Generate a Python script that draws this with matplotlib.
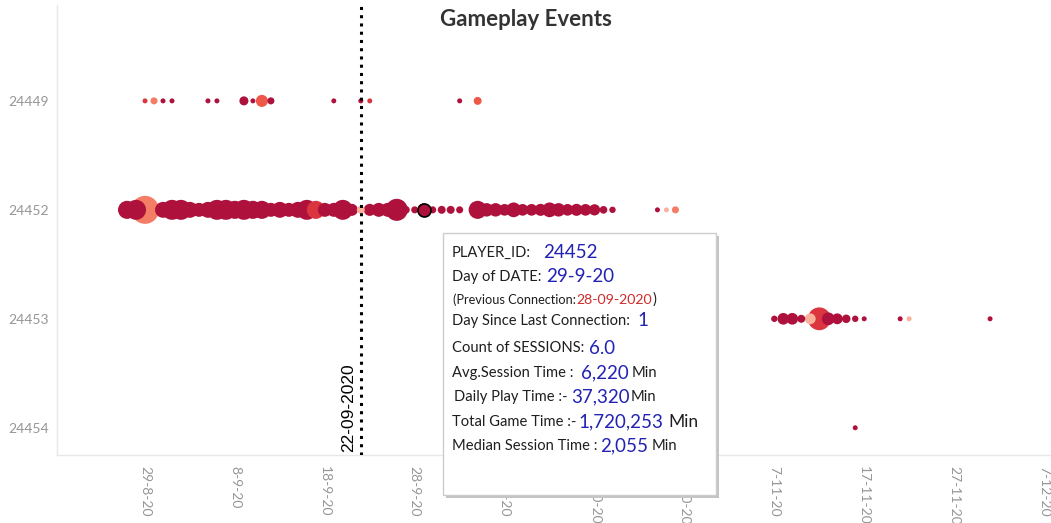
import datetime as dt
import numpy as np
import matplotlib
matplotlib.use("Agg")
import matplotlib.pyplot as plt
import matplotlib.dates as mdates
import matplotlib.transforms as mtransforms
from matplotlib.colors import ListedColormap
from matplotlib.patches import Rectangle

plt.rcParams["font.family"] = ["Lato", "DejaVu Sans"]

# players shown on the y axis (top to bottom)
players = ["24449", "24452", "24453", "24454"]

# daily events per player: date, daily play time (thousand min), colour level
p24449_dates = ["2020-08-29", "2020-08-30", "2020-08-31", "2020-09-01", "2020-09-05",
                "2020-09-06", "2020-09-09", "2020-09-10", "2020-09-11", "2020-09-12",
                "2020-09-19", "2020-09-22", "2020-09-23", "2020-10-03", "2020-10-05"]
p24449_play = [5.5, 11, 5.5, 5.5, 5.5, 5.5, 18, 5.5, 32, 11, 5.5, 5.5, 5.5, 5.5, 14]
p24449_level = [3, 1, 4, 4, 4, 4, 4, 4, 2, 4, 4, 4, 3, 4, 2]

p24452_dates = ["2020-08-27", "2020-08-28", "2020-08-29", "2020-08-31", "2020-09-01",
                "2020-09-02", "2020-09-03", "2020-09-04", "2020-09-05", "2020-09-06",
                "2020-09-07", "2020-09-08", "2020-09-09", "2020-09-10", "2020-09-11",
                "2020-09-12", "2020-09-13", "2020-09-14", "2020-09-15", "2020-09-16",
                "2020-09-17", "2020-09-18", "2020-09-19", "2020-09-20", "2020-09-21",
                "2020-09-22", "2020-09-23", "2020-09-24", "2020-09-25", "2020-09-26",
                "2020-09-27", "2020-09-28", "2020-09-29", "2020-09-30", "2020-10-01",
                "2020-10-02", "2020-10-03", "2020-10-05", "2020-10-06", "2020-10-07",
                "2020-10-08", "2020-10-09", "2020-10-10", "2020-10-11", "2020-10-12",
                "2020-10-13", "2020-10-14", "2020-10-15", "2020-10-16", "2020-10-17",
                "2020-10-18", "2020-10-19", "2020-10-20", "2020-10-25", "2020-10-26",
                "2020-10-27"]
p24452_play = [72, 88, 173, 56, 88, 88, 56, 43, 56, 88,
               88, 72, 88, 72, 72, 43, 56, 43, 56, 88,
               72, 43, 43, 88, 32, 14, 32, 43, 43, 107,
               14, 11, 37.32, 11, 14, 14, 11, 72, 40, 40,
               30, 48, 30, 30, 32, 48, 40, 30, 32, 30,
               28, 13, 9, 5.5, 5.5, 11]
p24452_level = [4, 4, 1, 4, 4, 4, 4, 4, 4, 4,
                4, 4, 4, 4, 4, 4, 4, 4, 4, 4,
                3, 4, 4, 4, 4, 0, 4, 4, 4, 4,
                4, 4, 4, 4, 4, 4, 4, 4, 4, 4,
                4, 4, 4, 4, 4, 4, 4, 4, 4, 4,
                4, 4, 4, 4, 0, 1]

p24453_dates = ["2020-11-07", "2020-11-08", "2020-11-09", "2020-11-10", "2020-11-11",
                "2020-11-12", "2020-11-13", "2020-11-14", "2020-11-15", "2020-11-16",
                "2020-11-17", "2020-11-21", "2020-11-22", "2020-12-01"]
p24453_play = [9, 30, 30, 14, 26, 115, 36, 26, 16, 9, 5.5, 5.5, 5.5, 5.5]
p24453_level = [4, 4, 4, 4, 0, 3, 4, 4, 4, 4, 4, 4, 0, 4]

p24454_dates = ["2020-11-16"]
p24454_play = [5.5]
p24454_level = [4]

hover_player = "24452"
hover_date = "2020-09-29"
marker_date = "2020-09-22"
tick_dates = ["2020-08-29", "2020-09-08", "2020-09-18", "2020-09-28", "2020-10-08",
              "2020-10-18", "2020-10-28", "2020-11-07", "2020-11-17", "2020-11-27",
              "2020-12-07"]

palette = ListedColormap(["#f9b19b", "#f47d66", "#ee5848", "#db3540", "#ae113c"])

W, H = 1051, 523
fig = plt.figure(figsize=(W / 100, H / 100), dpi=100)
ax = fig.add_axes([57 / W, 68 / H, (1050 - 57) / W, (518 - 68) / H])


def to_num(dates):
    return mdates.date2num([dt.datetime.strptime(d, "%Y-%m-%d") for d in dates])


# gather all marks and draw the big ones first so small ones sit on top
xs, ys, ss, cs = [], [], [], []
rows = [(p24449_dates, p24449_play, p24449_level),
        (p24452_dates, p24452_play, p24452_level),
        (p24453_dates, p24453_play, p24453_level),
        (p24454_dates, p24454_play, p24454_level)]
for i, (dates, play, level) in enumerate(rows):
    xs.extend(to_num(dates))
    ys.extend([i] * len(dates))
    ss.extend(play)
    cs.extend(level)
xs, ys, ss, cs = map(np.array, (xs, ys, ss, cs))
order = np.argsort(-ss, kind="stable")
size_scale = 2.35
ax.scatter(xs[order], ys[order], s=ss[order] * size_scale, c=cs[order],
           cmap=palette, vmin=-0.5, vmax=4.5, linewidths=0, zorder=2)

# highlighted (hovered) mark
hi = players.index(hover_player)
hx = to_num([hover_date])[0]
hs = p24452_play[p24452_dates.index(hover_date)]
ax.scatter([hx], [hi], s=hs * size_scale, c=[4], cmap=palette, vmin=-0.5, vmax=4.5,
           edgecolors="black", linewidths=1.2, zorder=4)

# reference line
mx = to_num([marker_date])[0]
ax.axvline(mx, color="black", lw=2.2, linestyle=(0, (1, 1.7)), zorder=3)
trans = mtransforms.offset_copy(ax.get_xaxis_transform(), fig=fig, x=-5, y=3, units="dots")
ax.text(mx, 0, "22-09-2020", transform=trans, rotation=90, ha="right", va="bottom",
        fontsize=12.5, family="Liberation Sans", color="black", zorder=3)

ax.set_xlim(mdates.date2num(dt.datetime(2020, 8, 19, 5)), mdates.date2num(dt.datetime(2020, 12, 7, 16)))
ax.set_ylim(3.25, -0.88)
ax.set_yticks(range(len(players)))
ax.set_yticklabels(players)
tx = to_num(tick_dates)
ax.set_xticks(tx)
ax.set_xticklabels([f"{d.day}-{d.month}-20" for d in mdates.num2date(tx)], rotation=270)
ax.tick_params(axis="both", length=0, labelsize=10, labelcolor="#969696")
ax.tick_params(axis="x", pad=8)
ax.tick_params(axis="y", pad=6)
for lab in ax.get_xticklabels():
    lab.set_va("top")
    lab.set_ha("center")
for side in ["top", "right"]:
    ax.spines[side].set_visible(False)
for side in ["left", "bottom"]:
    ax.spines[side].set_color("#e8e8e8")
    ax.spines[side].set_linewidth(1)

fig.text(0.5, 1 - 20 / H, "Gameplay Events", ha="center", va="center",
         fontsize=16, fontweight="bold", color="#333333")


# tooltip box
def fx(x):
    return x / W


def fy(y):
    return 1 - y / H


shadow = Rectangle((fx(446), fy(498)), fx(716) - fx(443), fy(233) - fy(495),
                   transform=fig.transFigure, facecolor="#c4c4c4", edgecolor="none", zorder=5)
box = Rectangle((fx(443), fy(495)), fx(716) - fx(443), fy(233) - fy(495),
                transform=fig.transFigure, facecolor="white", edgecolor="#cccccc", lw=1, zorder=6)
fig.add_artist(shadow)
fig.add_artist(box)

label_c = "#1e1e1e"
value_c = "#2222b4"
lab_fs, val_fs = 10.6, 13.5
# each line: y, start x, then pieces (gap before piece in px, text, colour, size)
tip_lines = [
    (253, 452, [(0, "PLAYER_ID:", label_c, lab_fs), (12, "24452", value_c, val_fs)]),
    (277, 452, [(0, "Day of DATE:", label_c, lab_fs), (5, "29-9-20", value_c, val_fs)]),
    (300, 453, [(0, "(Previous Connection:", label_c, 9.2), (0, "28-09-2020", "#d02a2a", 10.2),
                (1, ")", label_c, lab_fs)]),
    (321, 452, [(0, "Day Since Last Connection:", label_c, lab_fs), (7, "1", value_c, val_fs)]),
    (348, 452, [(0, "Count of SESSIONS:", label_c, lab_fs), (5, "6.0", value_c, val_fs)]),
    (373, 452, [(0, "Avg.Session Time :", label_c, lab_fs), (7, "6,220", value_c, val_fs),
                (3, "Min", label_c, lab_fs)]),
    (397, 454, [(0, "Daily Play Time :-", label_c, lab_fs), (4, "37,320", value_c, val_fs),
                (0, "Min", label_c, lab_fs)]),
    (422, 452, [(0, "Total Game Time :-", label_c, lab_fs), (2, "1,720,253", value_c, val_fs),
                (5, "Min", label_c, 12.5)]),
    (446, 452, [(0, "Median Session Time :", label_c, lab_fs), (3, "2,055", value_c, val_fs),
                (3, "Min", label_c, lab_fs)]),
]
renderer = fig.canvas.get_renderer()
for y, x0, parts in tip_lines:
    x = x0
    for gap, txt, col, size in parts:
        x += gap
        t = fig.text(fx(x), fy(y), txt, ha="left", va="center", fontsize=size, color=col, zorder=7)
        x = t.get_window_extent(renderer).x1

fig.savefig("out.png", dpi=100)
